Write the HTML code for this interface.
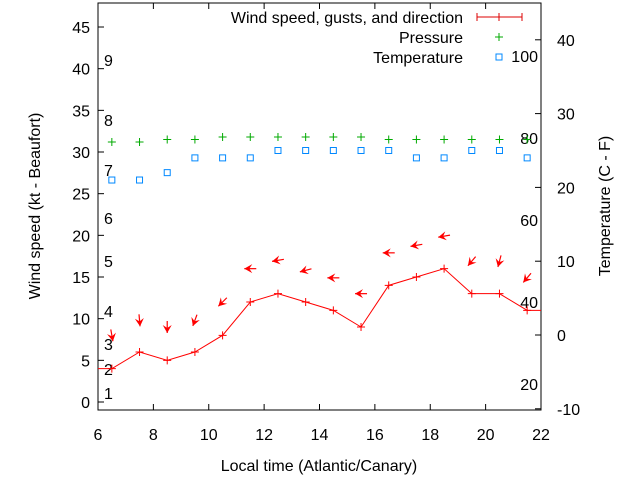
<!DOCTYPE html>
<html><head><meta charset="utf-8"><style>
body{margin:0;background:#fff}
svg{display:block;font-family:"Liberation Sans",sans-serif;font-size:16px}
</style></head><body>
<svg id="c" width="640" height="480"></svg>
<script>
const hours=[6.5,7.5,8.5,9.5,10.5,11.5,12.5,13.5,14.5,15.5,16.5,17.5,18.5,19.5,20.5,21.5];
const wind=[4,6,5,6,8,12,13,12,11,9,14,15,16,13,13,11];
const pressure=[31.2,31.2,31.5,31.5,31.8,31.8,31.8,31.8,31.8,31.8,31.5,31.5,31.5,31.5,31.5,31.5];
const temperature=[21,21,22,24,24,24,25,25,25,25,25,24,24,25,25,24];
const arrowPos=[8,9.8,9,9.8,12,16,17,15.8,14.9,13,17.9,18.8,19.9,16.9,16.9,14.9];
const arrowDir=[350,355,0,20,45,90,80,75,90,90,90,80,80,40,15,40];
const xTicks=[6,8,10,12,14,16,18,20,22];
const yTicks=[0,5,10,15,20,25,30,35,40,45];
const y2Ticks=[-10,0,10,20,30,40];
const beaufort=[[1,393],[2,369],[3,344],[4,311],[5,261],[6,218],[7,170],[8,120],[9,60]];
const fahr=[20,40,60,80,100];
const L=98,R=541,T=3,B=410;
const X=h=>L+(h-6)*(R-L)/16;
const Y=v=>402-v*8.333;
const Y2=t=>335-t*7.38;
const svg=document.getElementById('c');
const NS='http://www.w3.org/2000/svg';
function mk(tag,a,p){const e=document.createElementNS(NS,tag);for(const k in a)e.setAttribute(k,a[k]);(p||svg).appendChild(e);return e;}
function txt(x,y,s,anchor,name){const t=mk('text',{x:x,y:y,'text-anchor':anchor||'start'});t.textContent=s;return t;}
let f=mk('rect',{x:L,y:T,width:R-L,height:B-T,fill:'none',stroke:'#000'});

xTicks.forEach(h=>{const x=X(h);mk('line',{x1:x,y1:B,x2:x,y2:B-6,stroke:'#000'});mk('line',{x1:x,y1:T,x2:x,y2:T+6,stroke:'#000'});txt(x,440,h,'middle','x-tick-label');});
yTicks.forEach(v=>{const y=Y(v);mk('line',{x1:L,y1:y,x2:L+6,y2:y,stroke:'#000'});txt(L-8,y+6,v,'end','y-tick-label');});
y2Ticks.forEach(t=>{const y=Y2(t);mk('line',{x1:R,y1:y,x2:R-6,y2:y,stroke:'#000'});txt(R+16,y+6,t,'start','y2-tick-label');});
beaufort.forEach(b=>txt(104,b[1]+6,b[0],'start','beaufort-label'));
fahr.forEach(v=>{const t=(v-32)*5/9;txt(538,Y2(t)+6,v,'end','fahrenheit-label');});
txt(319,471,'Local time (Atlantic/Canary)','middle','x-axis-title');
let yt=txt(0,0,'Wind speed (kt - Beaufort)','middle','y-axis-title');yt.setAttribute('transform','translate(40,206) rotate(-90)');
let y2t=txt(0,0,'Temperature (C - F)','middle','y2-axis-title');y2t.setAttribute('transform','translate(610,206) rotate(-90)');
let pts=[[L,Y(wind[0])]].concat(hours.map((h,i)=>[X(h),Y(wind[i])])).concat([[R,Y(wind[wind.length-1])]]);
let wl=mk('polyline',{points:pts.map(p=>p.join(',')).join(' '),fill:'none',stroke:'#f00'});

hours.forEach((h,i)=>{const x=X(h),y=Y(wind[i]);const g=mk('path',{d:`M${x-4},${y}h8M${x},${y-4}v8`,stroke:'#f00'});
});
hours.forEach((h,i)=>{const x=X(h),y=Y(pressure[i]);const g=mk('path',{d:`M${x-4},${y}h8M${x},${y-4}v8`,stroke:'#0a0'});
});
hours.forEach((h,i)=>{const x=X(h),y=Y2(temperature[i]);const g=mk('rect',{x:x-3,y:y-3,width:6,height:6,fill:'none',stroke:'#08f'});
});
hours.forEach((h,i)=>{const cx=X(h),cy=Y(arrowPos[i]);const a=arrowDir[i]*Math.PI/180;
const dx=-Math.sin(a),dy=Math.cos(a);const len=12;
const tx=cx-dx*len/2,ty=cy-dy*len/2,hx=cx+dx*len/2,hy=cy+dy*len/2;
const px=-dy,py=dx;
const g=mk('g',{});
mk('line',{x1:tx,y1:ty,x2:hx,y2:hy,stroke:'#f00','stroke-width':1.2},g);
mk('polygon',{points:`${hx},${hy} ${hx-dx*8+px*4.5},${hy-dy*8+py*4.5} ${hx-dx*5},${hy-dy*5} ${hx-dx*8-px*4.5},${hy-dy*8-py*4.5}`,fill:'#f00'},g);});
txt(463,23,'Wind speed, gusts, and direction','end','legend-wind-label');
let lg=mk('path',{d:'M477,17H522M477,13v8M499,13v8M522,13v8',stroke:'#d00'});
txt(463,43,'Pressure','end','legend-pressure-label');
let lp=mk('path',{d:'M495,37h8M499,33v8',stroke:'#0a0'});
txt(463,63,'Temperature','end','legend-temperature-label');
let lt=mk('rect',{x:496,y:54,width:6,height:6,fill:'none',stroke:'#08f'});
</script>
</body></html>
